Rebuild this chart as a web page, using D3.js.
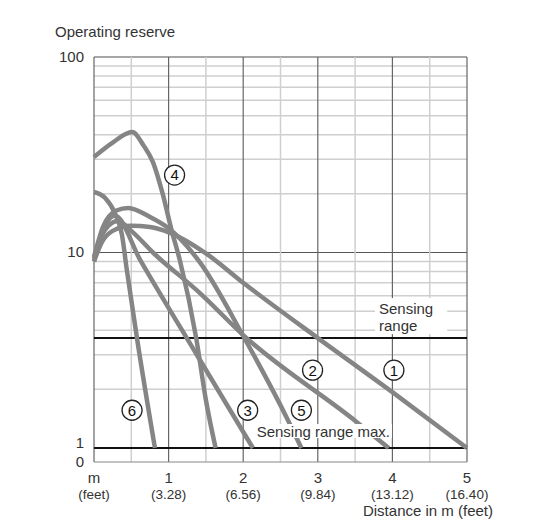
<!DOCTYPE html>
<html>
<head>
<meta charset="utf-8">
<script src="https://cdn.jsdelivr.net/npm/d3@7"></script>
<style>
        body { margin: 0; background: #fff; }
        #graf { width: 536px; height: 519px; }
        text { font-family: "Liberation Sans", Arial, sans-serif; fill: #333; }
</style>
</head>
<body>
<div id="graf"></div>
<script>
// I. Datos

const distancias = [0, 1, 2, 3, 4, 5]
const etiquetasM = ['m', '1', '2', '3', '4', '5']
const etiquetasPies = ['(feet)', '(3.28)', '(6.56)', '(9.84)', '(13.12)', '(16.40)']
const reservaTicks = [1, 10, 100]

// curvas: [distancia en m, reserva]
const curva1 = [[0, 9.0], [0.1, 11.2], [0.25, 12.9], [0.5, 13.7], [0.75, 13.5], [1.02, 12.6], [1.5, 9.9], [2.0, 7.0], [3.0, 3.65], [4.0, 1.93], [5.0, 1.0]]
const curva2 = [[0, 9.3], [0.1, 12.2], [0.32, 14.5], [0.5, 12.9], [0.79, 10.0], [1.42, 6.2], [2.0, 3.78], [3.52, 1.36], [3.95, 1.0]]
const curva3 = [[0, 9.0], [0.1, 12.4], [0.28, 15.4], [0.62, 9.15], [1.38, 2.99], [2.13, 1.0]]
const curva4 = [[0, 30.8], [0.25, 36.5], [0.51, 41.3], [0.67, 35.0], [0.79, 29.0], [0.92, 20.0], [1.04, 13.0], [1.15, 9.15], [1.37, 3.65], [1.5, 1.76], [1.63, 1.0]]
const curva5 = [[0, 9.5], [0.12, 13.5], [0.3, 16.4], [0.46, 16.9], [0.75, 15.2], [1.0, 13.3], [1.42, 8.9], [2.0, 3.74], [2.62, 1.34], [2.78, 1.0]]
const curva6 = [[0, 20.4], [0.15, 19.0], [0.28, 15.9], [0.375, 12.3], [0.44, 8.14], [0.576, 3.65], [0.817, 1.0]]
const curvas = [curva1, curva2, curva3, curva4, curva5, curva6]

// numeros en circulo
const numeros = ['1', '2', '3', '4', '5', '6']
const numerosX = [4.02, 2.93, 2.06, 1.08, 2.78, 0.51]
const numerosY = [2.5, 2.5, 1.56, 24.9, 1.56, 1.56]

const rangoSensado = 3.65
const rangoMax = 1

// II. Configuracion

graf = d3.select('#graf')
ancho_total = 536
alto_total = 519

margins = { top: 57, left: 94, right: 69, bottom: 57 }

ancho = ancho_total - margins.left - margins.right
alto = alto_total - margins.top - margins.bottom
ceroGap = 14

svg = graf.append('svg')
        .attr('width', ancho_total)
        .attr('height', alto_total)

g = svg.append('g')
        .attr('transform', `translate(${margins.left}, ${margins.top})`)

// Escaladores
x = d3.scaleLinear().domain([0, 5]).range([0, ancho])
y = d3.scaleLog().domain([1, 100]).range([alto - ceroGap, 0])

// III. Rejilla

g.selectAll('.hgrid')
        .data(y.ticks())
        .enter()
        .append('line')
        .attr('class', 'hgrid')
        .attr('x1', 0)
        .attr('x2', ancho)
        .attr('y1', d => y(d))
        .attr('y2', d => y(d))
        .attr('stroke', d => d == 10 ? '#555' : d == 100 ? '#888' : '#cfcfcf')
        .attr('stroke-width', d => d == 10 ? 1.2 : 1.5)

g.selectAll('.vgrid')
        .data(x.ticks(10))
        .enter()
        .append('line')
        .attr('class', 'vgrid')
        .attr('x1', d => x(d))
        .attr('x2', d => x(d))
        .attr('y1', 0)
        .attr('y2', alto)
        .attr('stroke', d => d % 1 == 0 ? '#666' : '#cfcfcf')
        .attr('stroke-width', d => d % 1 == 0 ? 1.2 : 1.5)

// linea del cero
g.append('line')
        .attr('x1', 0).attr('x2', ancho)
        .attr('y1', alto).attr('y2', alto)
        .attr('stroke', '#888')
        .attr('stroke-width', 1.2)

// fondo blanco de "Sensing range"
gSens = g.append('g')
tSens = gSens.append('text')
        .attr('x', x(3.82))
        .attr('y', y(rangoSensado) - 24)
        .style('font-size', '15px')
tSens.append('tspan').attr('x', x(3.82)).text('Sensing')
tSens.append('tspan').attr('x', x(3.82)).attr('dy', 17).text('range')
bb = tSens.node().getBBox()
gSens.insert('rect', 'text')
        .attr('x', bb.x - 4).attr('y', bb.y - 2)
        .attr('width', bb.width + 18).attr('height', bb.height + 2)
        .attr('fill', '#fff')

// lineas negras de rango
g.selectAll('.rango')
        .data([rangoSensado, rangoMax])
        .enter()
        .append('line')
        .attr('class', 'rango')
        .attr('x1', 0).attr('x2', ancho)
        .attr('y1', d => y(d)).attr('y2', d => y(d))
        .attr('stroke', '#111')
        .attr('stroke-width', 2)

// IV. Curvas

valueline = d3.line()
        .x(d => x(d[0]))
        .y(d => y(d[1]))
        .curve(d3.curveMonotoneX)

g.selectAll('.curva')
        .data(curvas)
        .enter()
        .append('path')
        .attr('class', 'curva')
        .attr('d', valueline)
        .attr('fill', 'none')
        .attr('stroke', '#858585')
        .attr('stroke-width', 4.5)
        .attr('stroke-linejoin', 'round')

// "Sensing range max." con fondo blanco
gMax = g.append('g')
tMax = gMax.append('text')
        .attr('x', x(2.18))
        .attr('y', y(rangoMax) - 11)
        .style('font-size', '15px')
        .text('Sensing range max.')
bb2 = tMax.node().getBBox()
gMax.insert('rect', 'text')
        .attr('x', bb2.x - 2).attr('y', bb2.y + 1)
        .attr('width', bb2.width + 4).attr('height', bb2.height - 3)
        .attr('fill', '#fff')

// numeros en circulo
marcas = g.selectAll('.marca')
        .data(numeros)
        .enter()
        .append('g')
        .attr('class', 'marca')
        .attr('transform', (d, i) => `translate(${x(numerosX[i])}, ${y(numerosY[i])})`)

marcas.append('circle')
        .attr('r', 10)
        .attr('fill', '#fff')
        .attr('stroke', '#222')
        .attr('stroke-width', 1.3)

marcas.append('text')
        .attr('text-anchor', 'middle')
        .attr('dy', '0.36em')
        .style('font-size', '15px')
        .style('fill', '#111')
        .text(d => d)

// V. Ejes (texto)

g.selectAll('.ytick')
        .data(reservaTicks)
        .enter()
        .append('text')
        .attr('class', 'ytick')
        .attr('x', -10)
        .attr('y', d => y(d) + (d == 1 ? -4 : 1))
        .attr('text-anchor', 'end')
        .attr('dominant-baseline', 'middle')
        .style('font-size', '15px')
        .text(d => d)

g.append('text')
        .attr('x', -10)
        .attr('y', alto + 1)
        .attr('text-anchor', 'end')
        .attr('dominant-baseline', 'middle')
        .style('font-size', '15px')
        .text('0')

g.selectAll('.xtick')
        .data(distancias)
        .enter()
        .append('text')
        .attr('class', 'xtick')
        .attr('x', d => x(d))
        .attr('y', alto + 21)
        .attr('text-anchor', 'middle')
        .style('font-size', '15px')
        .text((d, i) => etiquetasM[i])

g.selectAll('.xpies')
        .data(distancias)
        .enter()
        .append('text')
        .attr('class', 'xpies')
        .attr('x', d => x(d))
        .attr('y', alto + 37)
        .attr('text-anchor', 'middle')
        .style('font-size', '13.5px')
        .text((d, i) => etiquetasPies[i])

svg.append('text')
        .attr('x', 493)
        .attr('y', 516)
        .attr('text-anchor', 'end')
        .style('font-size', '15px')
        .text('Distance in m (feet)')

svg.append('text')
        .attr('x', 55)
        .attr('y', 37)
        .style('font-size', '15px')
        .text('Operating reserve')
</script>
</body>
</html>
